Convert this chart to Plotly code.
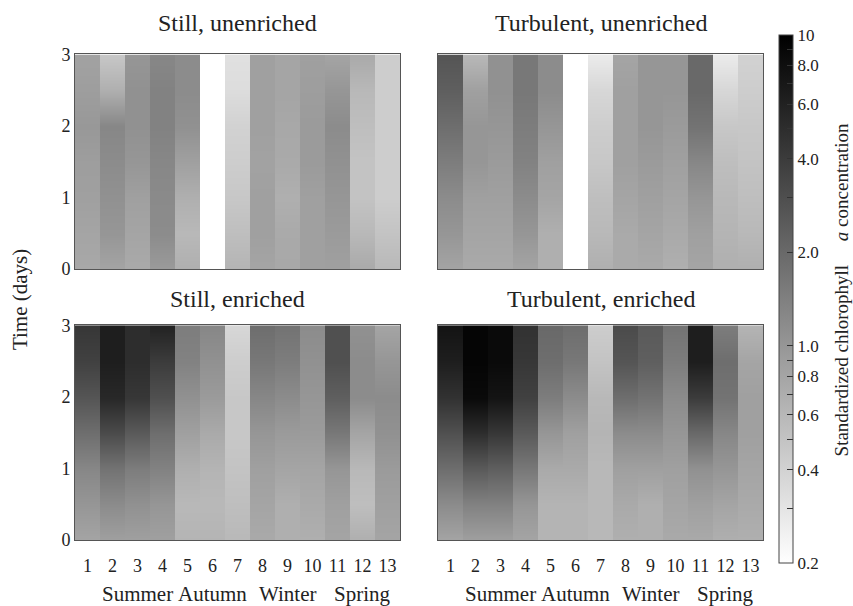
import numpy as np
import plotly.graph_objects as go

# ---------------- data ----------------
times = [0, 0.5, 1, 1.5, 2, 2.5, 3]          # days (rows, bottom -> top)
weeks = list(range(1, 14))                   # sampling occasions (columns)
season_labels = ["Summer", "Autumn", "Winter", "Spring"]
season_weeks = [3, 6, 9, 12]

panel_titles = ["Still, unenriched", "Turbulent, unenriched",
                "Still, enriched", "Turbulent, enriched"]

# standardized chlorophyll a concentration, one list per week (values at `times`)
still_unenriched = [
    [0.76, 0.80, 0.86, 0.89, 0.97, 0.89, 0.83],
    [0.80, 1.00, 1.08, 1.17, 1.26, 0.68, 0.47],
    [0.74, 0.80, 0.86, 1.00, 1.08, 1.08, 1.00],
    [0.93, 1.17, 1.20, 1.26, 1.36, 1.36, 1.26],
    [0.68, 0.59, 0.68, 0.86, 1.08, 1.17, 1.17],
    None,
    [0.63, 0.54, 0.47, 0.43, 0.40, 0.34, 0.32],
    [0.80, 0.86, 0.86, 0.83, 0.86, 0.86, 0.86],
    [0.76, 0.74, 0.68, 0.74, 0.76, 0.80, 0.80],
    [0.86, 0.86, 0.86, 0.93, 0.93, 0.89, 0.86],
    [0.86, 0.93, 1.00, 1.08, 1.17, 1.00, 0.80],
    [0.74, 0.59, 0.50, 0.50, 0.54, 0.59, 0.74],
    [0.59, 0.50, 0.43, 0.43, 0.43, 0.43, 0.43],
]
turbulent_unenriched = [
    [0.80, 1.00, 1.17, 1.47, 1.85, 2.33, 2.71],
    [0.74, 0.80, 0.86, 1.00, 1.00, 0.86, 0.59],
    [0.74, 0.80, 0.86, 0.93, 1.00, 1.08, 1.08],
    [0.80, 1.00, 1.17, 1.36, 1.47, 1.59, 1.59],
    [0.68, 0.68, 0.80, 0.86, 1.00, 1.17, 1.17],
    None,
    [0.68, 0.59, 0.54, 0.47, 0.43, 0.37, 0.27],
    [0.74, 0.74, 0.80, 0.86, 0.86, 0.86, 0.80],
    [0.74, 0.80, 0.86, 0.93, 1.00, 1.00, 1.00],
    [0.68, 0.74, 0.80, 0.86, 0.93, 1.00, 1.00],
    [0.80, 0.86, 1.00, 1.26, 1.71, 2.00, 2.00],
    [0.68, 0.63, 0.59, 0.54, 0.47, 0.37, 0.27],
    [0.68, 0.59, 0.54, 0.50, 0.47, 0.43, 0.40],
]
still_enriched = [
    [0.80, 1.00, 1.26, 1.85, 2.71, 3.69, 4.30],
    [0.86, 1.17, 1.71, 3.16, 5.41, 6.31, 6.31],
    [0.86, 1.08, 1.47, 2.51, 4.30, 5.01, 5.01],
    [0.86, 1.00, 1.36, 1.85, 2.93, 3.98, 5.85],
    [0.63, 0.59, 0.68, 0.86, 1.08, 1.36, 1.47],
    [0.63, 0.59, 0.63, 0.74, 0.93, 1.08, 1.26],
    [0.59, 0.54, 0.50, 0.47, 0.47, 0.43, 0.37],
    [0.74, 0.80, 0.86, 1.00, 1.26, 1.59, 1.85],
    [0.68, 0.68, 0.80, 0.93, 1.17, 1.47, 1.71],
    [0.68, 0.74, 0.80, 0.93, 1.00, 1.08, 1.17],
    [0.80, 0.86, 1.00, 1.59, 2.33, 2.93, 2.93],
    [0.68, 0.54, 0.59, 0.80, 1.17, 1.17, 1.08],
    [0.80, 0.86, 0.93, 1.08, 1.17, 1.00, 0.80],
]
turbulent_enriched = [
    [0.80, 1.17, 1.85, 2.93, 4.64, 6.31, 7.36],
    [0.86, 1.36, 2.51, 5.01, 8.58, 9.26, 9.26],
    [0.86, 1.36, 2.33, 4.30, 7.36, 8.58, 8.58],
    [0.80, 1.00, 1.59, 2.51, 3.69, 4.30, 4.64],
    [0.63, 0.63, 0.74, 1.00, 1.47, 1.85, 2.00],
    [0.63, 0.63, 0.74, 0.86, 1.17, 1.59, 1.85],
    [0.59, 0.59, 0.59, 0.63, 0.59, 0.50, 0.43],
    [0.68, 0.74, 0.86, 1.17, 1.85, 2.71, 3.16],
    [0.68, 0.68, 0.86, 1.17, 1.71, 2.33, 2.51],
    [0.74, 0.80, 0.86, 1.00, 1.17, 1.47, 1.71],
    [0.74, 0.86, 1.08, 2.00, 3.98, 6.31, 6.31],
    [0.68, 0.80, 1.00, 1.26, 1.71, 1.85, 1.47],
    [0.68, 0.74, 0.80, 0.86, 0.86, 0.80, 0.63],
]

cbar_values = [0.2, 0.3, 0.4, 0.5, 0.6, 0.7, 0.8, 0.9, 1, 2, 3, 4, 5, 6, 7, 8, 9, 10]
cbar_labels = {0.2: "0.2", 0.4: "0.4", 0.6: "0.6", 0.8: "0.8", 1: "1.0",
               2: "2.0", 4: "4.0", 6: "6.0", 8: "8.0", 10: "10"}
cmin_val, cmax_val = 0.2, 10
cbar_title = "Standardized chlorophyll&nbsp;&nbsp;&nbsp;&nbsp;&nbsp;<i>a</i> concentration"

# ---------------- figure ----------------
W, H = 853, 606
FONT = "Liberation Serif, Times New Roman, serif"
TXT = "#222222"

panels = [still_unenriched, turbulent_unenriched, still_enriched, turbulent_enriched]
xdomains = [[75 / W, 400 / W], [438 / W, 763 / W]]
ydomains = [[1 - 268 / H, 1 - 46 / H], [1 - 548 / H, 1 - 326 / H]]

fig = go.Figure()
for p, data in enumerate(panels):
    ax = "" if p == 0 else str(p + 1)
    for w, vals in zip(weeks, data):
        if vals is None:
            continue
        z = [[np.log10(v), np.log10(v)] for v in vals]
        fig.add_trace(go.Heatmap(
            x=[w - 0.25, w + 0.25], y=times, z=z,
            coloraxis="coloraxis", zsmooth="best",
            xaxis="x" + ax, yaxis="y" + ax,
            hovertemplate=f"week {w}<br>t=%{{y}} d<extra></extra>",
        ))

layout = dict(
    width=W, height=H,
    margin=dict(l=0, r=0, t=0, b=0),
    paper_bgcolor="white", plot_bgcolor="white",
    font=dict(family=FONT, color=TXT, size=18),
    showlegend=False,
    coloraxis=dict(
        cmin=np.log10(cmin_val), cmax=np.log10(cmax_val),
        colorscale=[[0, "#ffffff"], [1, "#000000"]],
        colorbar=dict(
            x=779 / W, xanchor="left", y=1 - 299 / H, yanchor="middle",
            thickness=14, thicknessmode="pixels",
            len=528, lenmode="pixels",
            xpad=0, ypad=0,
            outlinewidth=1, outlinecolor="#444444",
            tickmode="array",
            tickvals=[np.log10(v) for v in cbar_values],
            ticktext=[cbar_labels.get(v, "") for v in cbar_values],
            ticks="inside", ticklen=6, tickwidth=1, tickcolor="#333333",
            tickfont=dict(family=FONT, size=17, color=TXT),
        ),
    ),
)

annotations = []
for p in range(4):
    r, c = divmod(p, 2)
    ax = "" if p == 0 else str(p + 1)
    xkey = "xaxis" + ax
    ykey = "yaxis" + ax
    layout[xkey] = dict(
        domain=xdomains[c], anchor="y" + ax, range=[0.5, 13.5],
        showgrid=False, zeroline=False, ticks="",
        showline=True, mirror=True, linecolor="#555555", linewidth=1,
        tickmode="array", tickvals=weeks, ticktext=[str(w) for w in weeks],
        showticklabels=(r == 1), tickfont=dict(size=18),
        ticklabelstandoff=9,
    )
    layout[ykey] = dict(
        domain=ydomains[r], anchor="x" + ax, range=[0, 3],
        showgrid=False, zeroline=False, ticks="",
        showline=True, mirror=True, linecolor="#555555", linewidth=1,
        tickmode="array", tickvals=[0, 1, 2, 3],
        showticklabels=(c == 0), tickfont=dict(size=18),
    )
    annotations.append(dict(
        text=panel_titles[p], xref="paper", yref="paper",
        x=(xdomains[c][0] + xdomains[c][1]) / 2, y=ydomains[r][1],
        xanchor="center", yanchor="bottom", yshift=(16 if r == 0 else 11),
        showarrow=False,
        font=dict(family=FONT, size=24, color=TXT),
    ))
    if r == 1:
        for s, sw in zip(season_labels, season_weeks):
            annotations.append(dict(
                text=s, xref="x" + ax, yref="paper", x=sw, y=1 - 604 / H,
                xanchor="center", yanchor="middle", showarrow=False,
                font=dict(family=FONT, size=21, color=TXT),
            ))

annotations.append(dict(
    text="Time (days)", xref="paper", yref="paper", x=20 / W, y=1 - 300 / H,
    xanchor="center", yanchor="middle", textangle=-90, showarrow=False,
    font=dict(family=FONT, size=21, color=TXT),
))
annotations.append(dict(
    text=cbar_title, xref="paper", yref="paper", x=841 / W, y=1 - 290 / H,
    xanchor="center", yanchor="middle", textangle=-90, showarrow=False,
    font=dict(family=FONT, size=19, color=TXT),
))
layout["annotations"] = annotations

fig.update_layout(**layout)
fig.write_html("out.html")
